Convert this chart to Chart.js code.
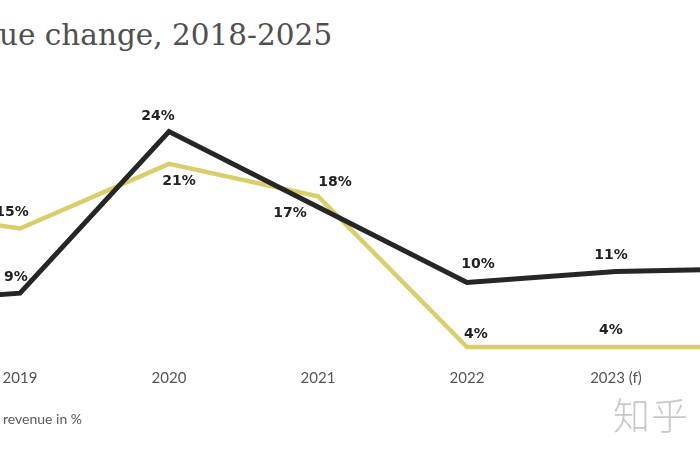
<!DOCTYPE html>
<html>
<head>
<meta charset="utf-8">
<script src="https://cdn.jsdelivr.net/npm/chart.js@4.4.0/dist/chart.umd.min.js"></script>
<style>
  html, body { margin: 0; padding: 0; background: #fff; }
  body { width: 700px; height: 470px; position: relative; overflow: hidden; }
  #title {
    position: absolute; top: 18px; left: 0; white-space: nowrap;
    font-family: "DejaVu Serif", serif; font-size: 29.5px; line-height: 34px; color: #4f4f4f;
  }
  #wrap { position: absolute; left: -169px; top: 0; width: 1123px; height: 470px; }
  #note {
    position: absolute; top: 411px; left: 0; white-space: nowrap;
    font-family: Lato, sans-serif; font-size: 14px; line-height: 16px; color: #5a5a5a;
  }
  #mark {
    position: absolute; top: 392px; left: 613px; white-space: nowrap;
    font-family: "Noto Sans CJK SC", sans-serif; font-weight: 300; font-size: 37px;
    line-height: 44px; color: #c8c8c8; letter-spacing: 1px;
  }
</style>
</head>
<body>
<div id="title"><span id="titlePre">Reven</span>ue change, 2018-2025</div>
<div id="wrap"><canvas id="chart" width="1123" height="470" style="width:1123px;height:470px"></canvas></div>
<div id="note"><span id="notePre">Change of </span>revenue in %</div>
<div id="mark">知乎</div>
<script>
const years = ["2018", "2019", "2020", "2021", "2022", "2023 (f)", "2024 (f)", "2025 (f)"];
const darkValues = [8, 9, 24, 17, 10, 11, 11.3, null];
const goldValues = [17, 15, 21, 18, 4, 4, 4, null];

// where each value label sits relative to its point (dx, dy)
const darkLabelOffsets = [[0, -16], [-4, -16], [-11, -15], [-28, 6], [11, -18], [-5, -16], [0, -16], [0, -16]];
const goldLabelOffsets = [[0, -16], [-8, -16], [10, 17], [17, -14], [9, -13], [-5, -17], [0, -16], [0, -16]];
const labelOffsets = [darkLabelOffsets, goldLabelOffsets];

// crop the hidden start of the title and the note
const shiftLeft = (boxId, preId, extra) => {
  const w = document.getElementById(preId).getBoundingClientRect().width;
  document.getElementById(boxId).style.left = (-w - extra) + "px";
};
shiftLeft("title", "titlePre", 1);
shiftLeft("note", "notePre", -3);

const pointLabels = {
  id: "pointLabels",
  afterDatasetsDraw(chart) {
    const ctx = chart.ctx;
    ctx.save();
    ctx.font = 'bold 14px "DejaVu Sans"';
    ctx.fillStyle = "#222";
    ctx.textAlign = "center";
    ctx.textBaseline = "middle";
    chart.data.datasets.forEach((ds, i) => {
      const meta = chart.getDatasetMeta(i);
      meta.data.forEach((pt, j) => {
        const v = ds.data[j];
        if (v == null) return;
        const [dx, dy] = labelOffsets[i][j];
        ctx.fillText(Math.round(v) + "%", pt.x + dx, pt.y + dy);
      });
    });
    ctx.restore();
  },
};

const ctx = document.getElementById("chart").getContext("2d");

new Chart(ctx, {
  type: "line",
  data: {
    labels: years,
    datasets: [
      {
        label: "Dark series",
        data: darkValues,
        borderColor: "#262626",
        borderWidth: 5,
        pointRadius: 0,
        tension: 0,
        borderJoinStyle: "miter",
      },
      {
        label: "Gold series",
        data: goldValues,
        borderColor: "#dacd6c",
        borderWidth: 4.5,
        pointRadius: 0,
        tension: 0,
        borderJoinStyle: "miter",
      },
    ],
  },
  options: {
    responsive: false,
    animation: false,
    events: [],
    layout: { padding: { left: 40, right: 40, top: 67, bottom: 79 } },
    plugins: {
      legend: { display: false },
      tooltip: { enabled: false },
    },
    scales: {
      x: {
        offset: false,
        grid: { display: false },
        border: { display: false },
        ticks: {
          color: "#555",
          font: { family: "Lato", size: 15 },
          padding: 0,
          maxRotation: 0,
          autoSkip: false,
        },
        afterFit: (scale) => {
          scale.height = 30;
        },
      },
      y: {
        display: false,
        min: 2.7,
        max: 30,
      },
    },
  },
  plugins: [pointLabels],
});
</script>
</body>
</html>
